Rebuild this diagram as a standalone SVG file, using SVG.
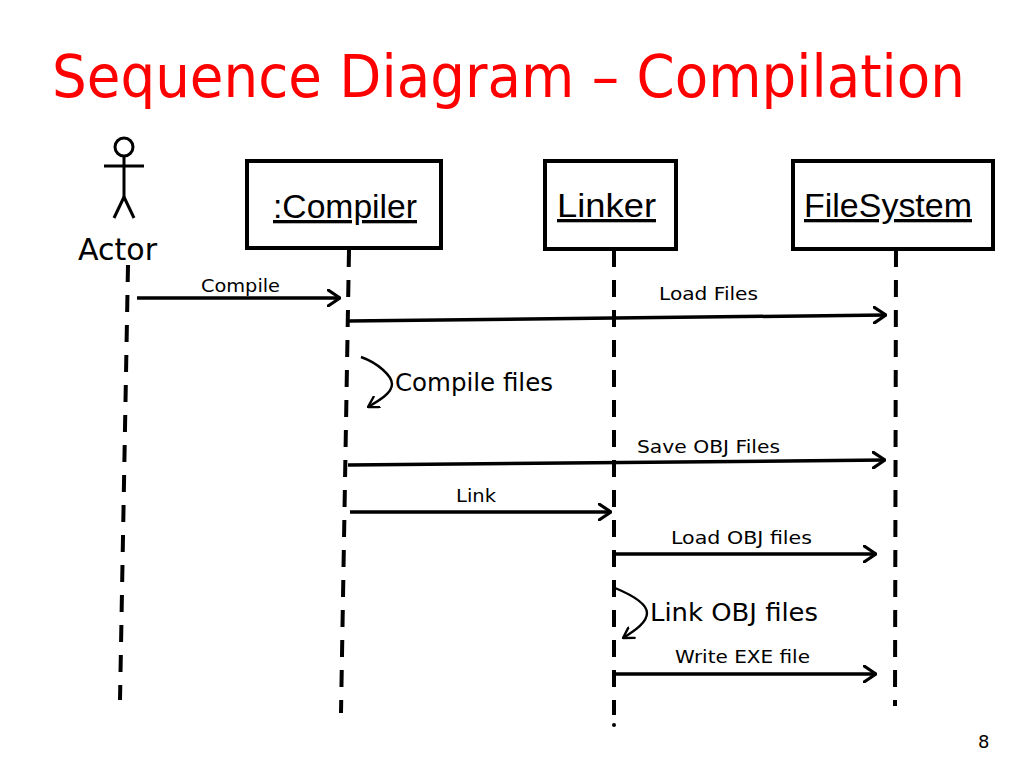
<svg xmlns="http://www.w3.org/2000/svg" width="1024" height="768" viewBox="0 0 1024 768">
<defs>
<marker id="open" viewBox="0 0 14 18" refX="13" refY="9" markerWidth="14" markerHeight="18" markerUnits="userSpaceOnUse" orient="auto">
<path d="M1,1 L13,9 L1,17" fill="none" stroke="#000" stroke-width="3.2" stroke-linecap="round" stroke-linejoin="round"/>
</marker>
<marker id="small" viewBox="0 0 12 14" refX="11" refY="7" markerWidth="12" markerHeight="14" markerUnits="userSpaceOnUse" orient="auto">
<path d="M1,1 L11,7 L1,13" fill="none" stroke="#000" stroke-width="2.4" stroke-linecap="round" stroke-linejoin="round"/>
</marker>
</defs>
<style>
.title{font-family:"DejaVu Sans",Verdana,sans-serif;font-size:58px;fill:#ff0000}
.box{fill:#fff;stroke:#000;stroke-width:4}
.obj{font-family:"Liberation Sans",Arial,sans-serif;font-size:33px;fill:#000;text-decoration:underline}
.life{stroke:#000;stroke-width:4;stroke-dasharray:17 13;fill:none}
.msg{stroke:#000;stroke-width:3.5;fill:none;marker-end:url(#open)}
.self{stroke:#000;stroke-width:2.4;fill:none;marker-end:url(#small)}
.lbl{font-family:"DejaVu Sans",Verdana,sans-serif;font-size:18px;fill:#000}
.big{font-family:"DejaVu Sans",Verdana,sans-serif;font-size:24px;fill:#000}
.actor{stroke:#000;stroke-width:3;fill:none}
</style>
<rect width="1024" height="768" fill="#fff"/>
<text class="title" x="52" y="97" textLength="913" lengthAdjust="spacingAndGlyphs">Sequence Diagram – Compilation</text>

<g id="actor">
<circle class="actor" cx="124" cy="147" r="9"/>
<line class="actor" x1="124" y1="156" x2="124" y2="198"/>
<line class="actor" x1="104" y1="166" x2="144" y2="166"/>
<line class="actor" x1="124" y1="197" x2="114" y2="218"/>
<line class="actor" x1="124" y1="197" x2="134" y2="218"/>
<text class="big" x="78" y="260" style="font-size:30px" textLength="79" lengthAdjust="spacingAndGlyphs">Actor</text>
</g>

<g id="compiler">
<rect class="box" x="247" y="161" width="194" height="87"/>
<text class="obj" x="273" y="218" textLength="144" lengthAdjust="spacingAndGlyphs">:Compiler</text>
</g>

<g id="linker">
<rect class="box" x="545" y="161" width="131" height="88"/>
<text class="obj" x="557" y="217" textLength="99" lengthAdjust="spacingAndGlyphs">Linker</text>
</g>

<g id="filesystem">
<rect class="box" x="793" y="161" width="200" height="88"/>
<text class="obj" x="804" y="217" textLength="168" lengthAdjust="spacingAndGlyphs">FileSystem</text>
</g>

<g id="lifelines">
<line class="life" x1="128" y1="265" x2="120" y2="700"/>
<line class="life" x1="349" y1="250" x2="341" y2="713"/>
<line class="life" x1="614" y1="250" x2="614" y2="715"/>
<circle cx="614" cy="725" r="2" fill="#000"/>
<line class="life" x1="896" y1="250" x2="895" y2="706"/>
</g>

<g id="connectors">
<line class="msg" x1="137" y1="298" x2="340" y2="298"/>
<text class="lbl" x="201" y="292" textLength="79" lengthAdjust="spacingAndGlyphs">Compile</text>

<line class="msg" x1="348" y1="321" x2="886" y2="315"/>
<text class="lbl" x="659" y="300" textLength="99" lengthAdjust="spacingAndGlyphs">Load Files</text>

<path class="self" d="M361,357 C378,363 392,376 392,384 C392,393 380,400 368,407"/>
<text class="big" x="395" y="391" textLength="158" lengthAdjust="spacingAndGlyphs">Compile files</text>

<line class="msg" x1="348" y1="465" x2="885" y2="460"/>
<text class="lbl" x="637" y="453" textLength="143" lengthAdjust="spacingAndGlyphs">Save OBJ Files</text>

<line class="msg" x1="350" y1="512" x2="611" y2="512"/>
<text class="lbl" x="456" y="502" textLength="40" lengthAdjust="spacingAndGlyphs">Link</text>

<line class="msg" x1="614" y1="554" x2="876" y2="554"/>
<text class="lbl" x="671" y="544" textLength="141" lengthAdjust="spacingAndGlyphs">Load OBJ files</text>

<path class="self" d="M615,588 C632,595 647,604 647,613 C647,622 636,630 623,638"/>
<text class="big" x="650" y="621" textLength="168" lengthAdjust="spacingAndGlyphs">Link OBJ files</text>

<line class="msg" x1="614" y1="674" x2="876" y2="674"/>
<text class="lbl" x="675" y="663" textLength="135" lengthAdjust="spacingAndGlyphs">Write EXE file</text>
</g>

<text class="lbl" x="978" y="748" style="font-size:18px">8</text>
</svg>
